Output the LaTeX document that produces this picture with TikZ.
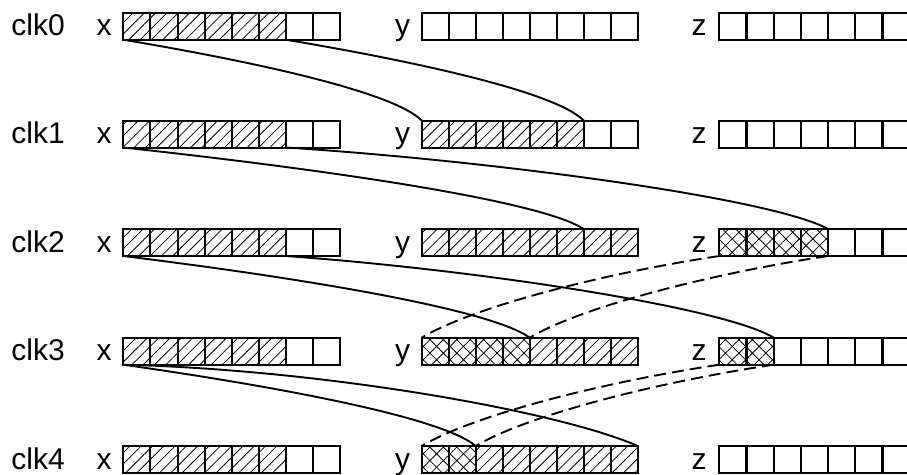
\documentclass[tikz,border=0pt]{standalone}
\usepackage{fontspec}
\setmainfont{Liberation Sans}
\usetikzlibrary{calc,patterns.meta}
\tikzset{
  cell/.style={draw, line width=2pt, minimum width=27.1pt, minimum height=27pt,
    inner sep=0pt, outer sep=0pt, anchor=north west},
  stH/.style={pattern={Lines[angle=45,distance=8pt,line width=0.8pt]}},
  stC/.style={pattern={Hatch[angle=45,distance=9.5pt,line width=0.8pt]}},
  stE/.style={},
  lbl/.style={font=\fontsize{30}{30}\selectfont, inner sep=0pt, outer sep=0pt},
  link/.style={line width=1.9pt},
  dlink/.style={line width=1.9pt, dash pattern=on 12pt off 6pt},
}
\newcommand\linkcurve[5][link]{\draw[#1] (#2) .. controls ($(#2)+(#3)$) and ($(#4)+(#5)$) .. (#4);}
\begin{document}
\begin{tikzpicture}[x=1pt,y=-1pt]
\useasboundingbox (0,0) rectangle (907,474);
\clip (0,0) rectangle (907,474);
\foreach \r/\yy/\xs/\ys/\zs in {
  0/12.7/{H,H,H,H,H,H,E,E}/{E,E,E,E,E,E,E,E}/{E,E,E,E,E,E,E,E},
  1/120.5/{H,H,H,H,H,H,E,E}/{H,H,H,H,H,H,E,E}/{E,E,E,E,E,E,E,E},
  2/229.0/{H,H,H,H,H,H,E,E}/{H,H,H,H,H,H,H,H}/{C,C,C,C,E,E,E,E},
  3/337.7/{H,H,H,H,H,H,E,E}/{C,C,C,C,H,H,H,H}/{C,C,E,E,E,E,E,E},
  4/446.0/{H,H,H,H,H,H,E,E}/{C,C,H,H,H,H,H,H}/{E,E,E,E,E,E,E,E}}
{
  \node[lbl, anchor=base west] (clk\r) at (11.5,\yy+23) {clk\r};
  \node[lbl, anchor=base] (lx\r) at (104.2,\yy+23) {x};
  \node[lbl, anchor=base] (ly\r) at (402.5,\yy+23) {y};
  \node[lbl, anchor=base] (lz\r) at (699.2,\yy+23) {z};
  \foreach \s [count=\i from 0] in \xs
    \node[cell, st\s] (x\r-\i) at ({123.3+27.1*\i},\yy) {};
  \foreach \s [count=\i from 0] in \ys
    \node[cell, st\s] (y\r-\i) at ({421.7+27.0*\i},\yy) {};
  \foreach \s [count=\i from 0] in \zs
    \node[cell, st\s] (z\r-\i) at ({719.3+27.2*\i},\yy) {};
}
% solid connectors
\linkcurve{x0-0.south west}{119,20}{y1-0.north west}{-30,-30}
\linkcurve{x0-6.south west}{119,20}{y1-6.north west}{-30,-30}
\linkcurve{x1-0.south west}{184,20}{y2-6.north west}{-46,-30}
\linkcurve{x1-6.south west}{216,14}{z2-4.north west}{-54,-30}
\linkcurve{x2-0.south west}{162,20}{y3-4.north west}{-41,-30}
\linkcurve{x2-6.south west}{195,14}{z3-2.north west}{-49,-30}
\linkcurve{x3-0.south west}{141,20}{y4-2.north west}{-35,-30}
\linkcurve{x3-0.south west}{200,5}{y4-7.north east}{-80,-35}
% dashed connectors
\linkcurve[dlink]{z2-0.south west}{-120,18}{y3-0.north west}{50,-30}
\linkcurve[dlink]{z2-4.south west}{-120,18}{y3-4.north west}{50,-30}
\linkcurve[dlink]{z3-0.south west}{-120,18}{y4-0.north west}{50,-30}
\linkcurve[dlink]{z3-2.south west}{-120,18}{y4-2.north west}{50,-30}
\end{tikzpicture}
\end{document}
